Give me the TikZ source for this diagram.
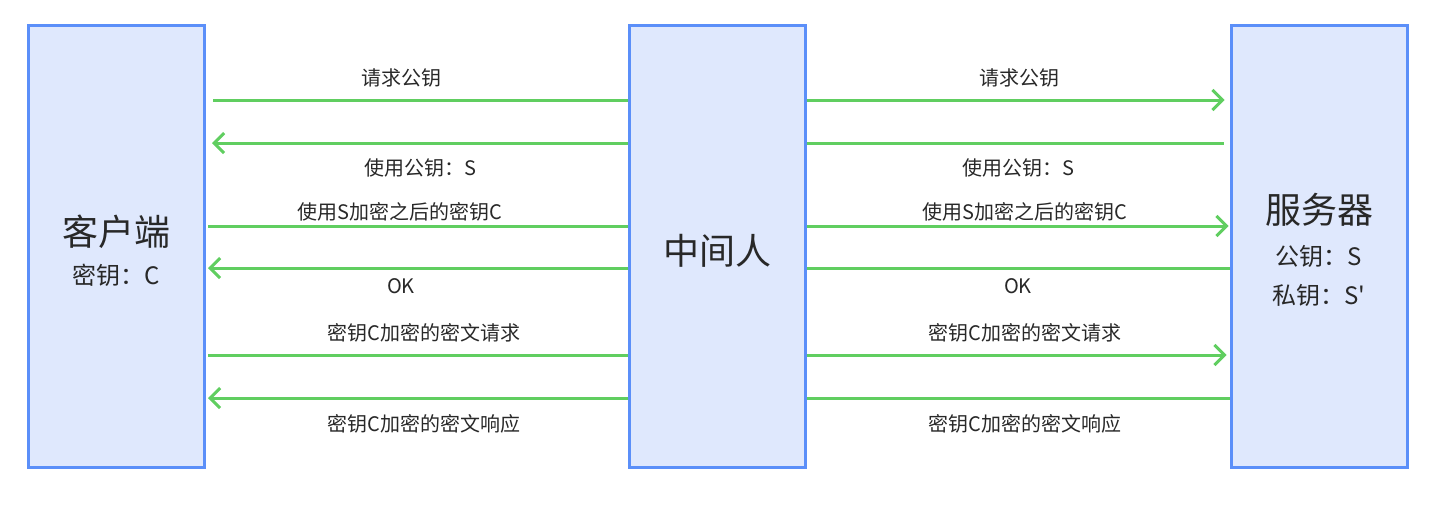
\documentclass[tikz,border=0pt]{standalone}
\usepackage{fontspec}
\newfontfamily\zhfont{Noto Sans CJK SC}
\usetikzlibrary{positioning,arrows.meta}

\definecolor{boxfill}{RGB}{223,232,253}
\definecolor{boxline}{RGB}{91,143,249}
\definecolor{msggreen}{RGB}{96,206,96}
\definecolor{txtgray}{RGB}{40,40,40}

\begin{document}
\begin{tikzpicture}[x=0.5pt, y=-0.5pt,
  party/.style={rectangle, draw=boxline, line width=1.5pt, fill=boxfill,
                minimum width=88pt, minimum height=221pt, align=center,
                text=txtgray, inner sep=0pt, font=\zhfont},
  msg/.style={font=\zhfont\fontsize{10}{12}\selectfont, text=txtgray, inner sep=0pt},
  line/.style={draw=msggreen, line width=1.5pt},
  arr/.style={line, -{Straight Barb[length=5pt, width=10pt, line width=1.5pt]}}]
  \useasboundingbox (0,0) rectangle (1446,505);
  % the three parties
  \node[party] (client) at (116.5,246.5)
    {\rule{0pt}{20pt}{\fontsize{18}{22}\selectfont 客户端}\\[7.5pt]{\fontsize{12}{14}\selectfont 密钥：C}};
  \node[party] (mitm) at (717.5,246.5)
    {\rule{0pt}{19pt}{\fontsize{18}{22}\selectfont 中间人}};
  \node[party] (server) at (1319,246.5)
    {\rule{0pt}{19pt}{\fontsize{18}{22}\selectfont 服务器}\\[9pt]{\fontsize{12}{14}\selectfont 公钥：S}\\[7.5pt]{\fontsize{12}{14}\selectfont 私钥：S'}};
  % client <-> man in the middle
  \draw[line] ([xshift=3.5pt]client.east |- 0,100) -- (mitm.west |- 0,100);
  \draw[arr] (mitm.west |- 0,143) -- ([xshift=3pt]client.east |- 0,143);
  \draw[line] ([xshift=1pt]client.east |- 0,226) -- (mitm.west |- 0,226);
  \draw[arr] (mitm.west |- 0,268) -- ([xshift=1pt]client.east |- 0,268);
  \draw[line] ([xshift=1pt]client.east |- 0,355) -- (mitm.west |- 0,355);
  \draw[arr] (mitm.west |- 0,398) -- ([xshift=1pt]client.east |- 0,398);
  \node[msg] (c1) at (401,78) {请求公钥};
  \node[msg] (c2) at (420,168) {使用公钥：S};
  \node[msg] (c3) at (400,212) {使用S加密之后的密钥C};
  \node[msg] (c4) at (401,286) {OK};
  \node[msg] (c5) at (424,333) {密钥C加密的密文请求};
  \node[msg] (c6) at (424,424) {密钥C加密的密文响应};
  % man in the middle <-> server
  \draw[arr] (mitm.east |- 0,100) -- ([xshift=-2.5pt]server.west |- 0,100);
  \draw[line] (mitm.east |- 0,143) -- ([xshift=-3pt]server.west |- 0,143);
  \draw[arr] (mitm.east |- 0,226) -- ([xshift=-0.5pt]server.west |- 0,226);
  \draw[line] (mitm.east |- 0,268) -- (server.west |- 0,268);
  \draw[arr] (mitm.east |- 0,355) -- ([xshift=-1.5pt]server.west |- 0,355);
  \draw[line] (mitm.east |- 0,398) -- (server.west |- 0,398);
  \node[msg] (s1) at (1019,78) {请求公钥};
  \node[msg] (s2) at (1018,168) {使用公钥：S};
  \node[msg] (s3) at (1025,212) {使用S加密之后的密钥C};
  \node[msg] (s4) at (1018,286) {OK};
  \node[msg] (s5) at (1025,333) {密钥C加密的密文请求};
  \node[msg] (s6) at (1025,424) {密钥C加密的密文响应};
\end{tikzpicture}
\end{document}
